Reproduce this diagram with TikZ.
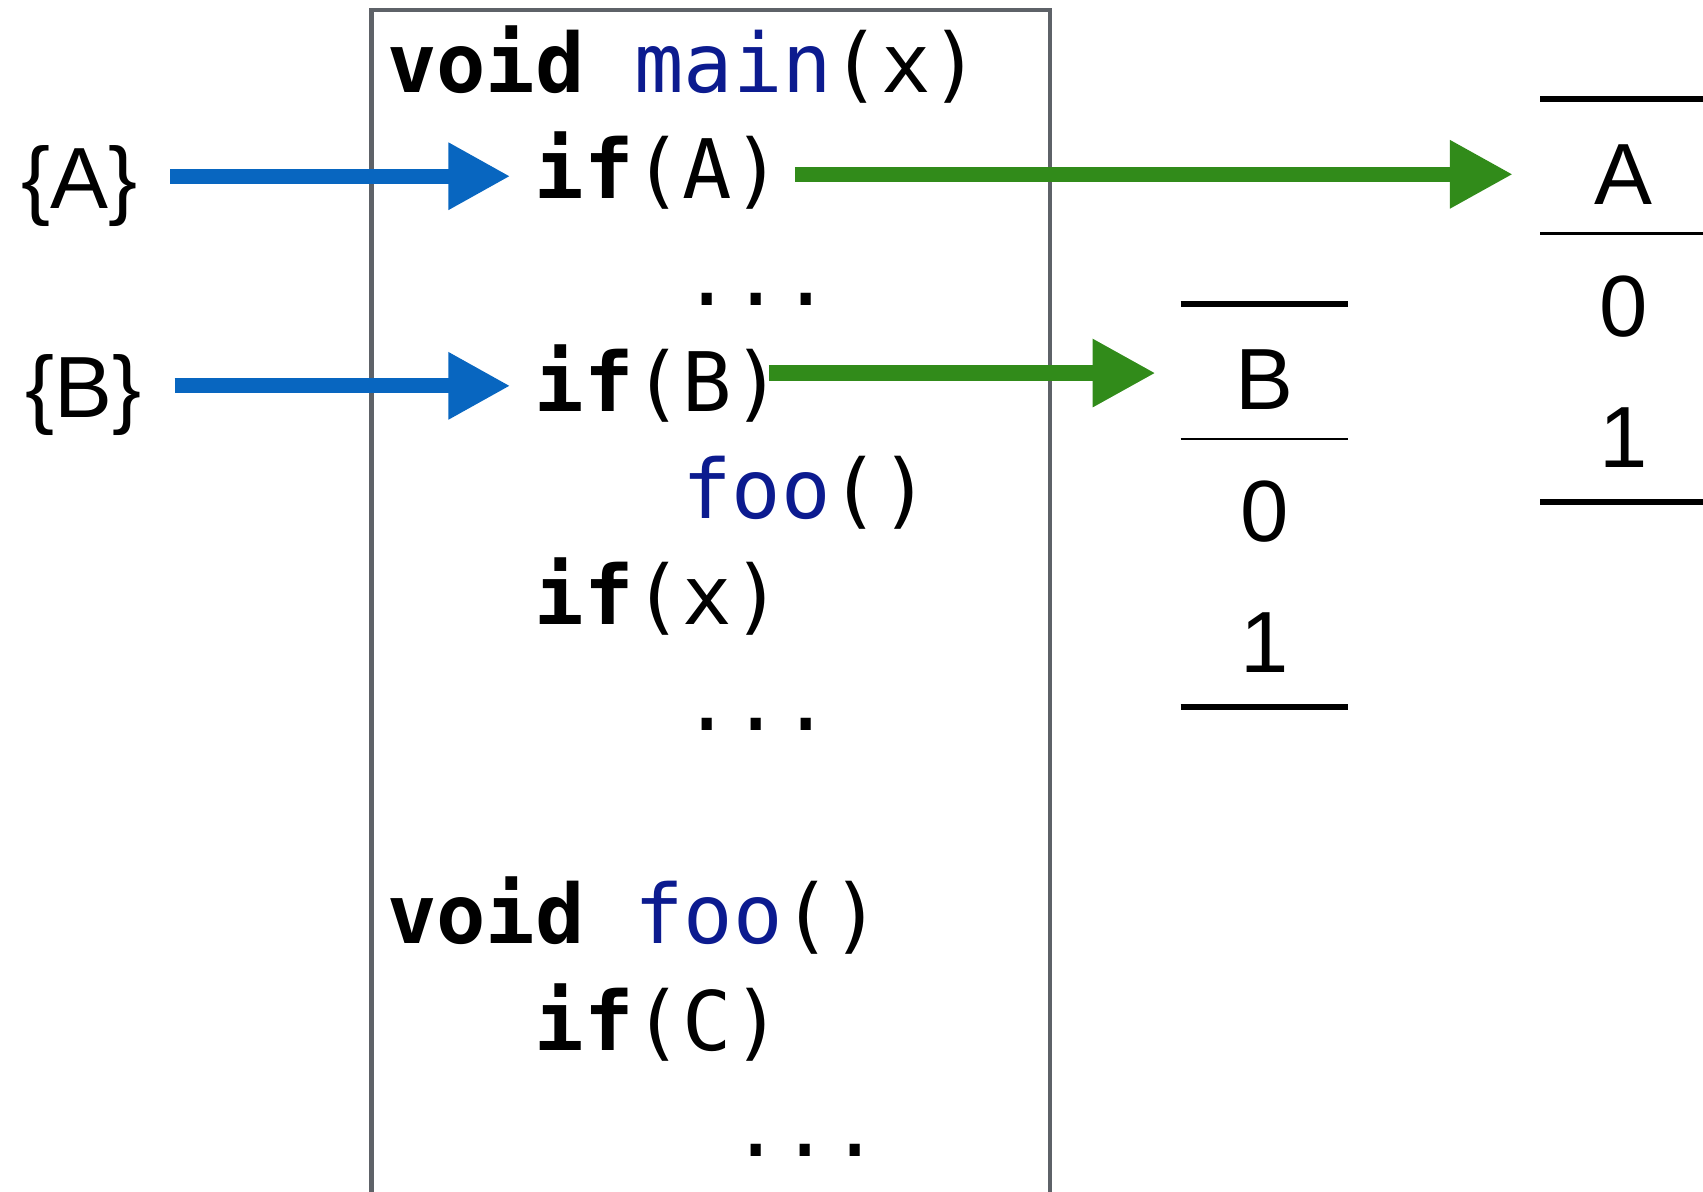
\documentclass[tikz,border=0pt]{standalone}
\usepackage{fontspec}
\setmonofont{DejaVu Sans Mono}
\newfontfamily\lblfont{Liberation Sans}
\usetikzlibrary{arrows.meta}

\definecolor{fnblue}{HTML}{0C1B8F}
\definecolor{inblue}{HTML}{0866C0}
\definecolor{outgreen}{HTML}{318B1A}
\definecolor{boxgray}{HTML}{5E6268}

\tikzset{
    codeline/.style={anchor=base west, inner sep=0pt, font=\ttfamily\fontsize{37.8pt}{45pt}\selectfont},
    lbl/.style={anchor=base, inner sep=0pt, font=\lblfont\fontsize{40pt}{48pt}\selectfont},
    inarrow/.style={draw=inblue, line width=7pt, -{Triangle[length=28.5pt, width=29pt]}},
    outarrow/.style={draw=outgreen, line width=7pt, -{Triangle[length=29pt, width=29.5pt]}},
    codebox/.style={draw=boxgray, line width=2pt},
    thickrule/.style={line width=3pt},
    thinrule/.style={line width=1pt}
}

\begin{document}
\begin{tikzpicture}[x=0.5pt, y=-0.5pt]
    \useasboundingbox (0,0) rectangle (1568,1097);

    % Code panel
    \draw[codebox] (342,1110) -- (342,9) -- (967,9) -- (967,1110);

    \node[codeline] (mainhd) at (356,85) {\textbf{void} \textcolor{fnblue}{main}(x)};
    \node[codeline] (ifA) at (491.9,183) {\textbf{if}(A)};
    \node[codeline] (dotsa) at (627.8,281) {...};
    \node[codeline] (ifB) at (491.9,379) {\textbf{if}(B)};
    \node[codeline] (callfoo) at (627.8,477) {\textcolor{fnblue}{foo}()};
    \node[codeline] (ifx) at (491.9,575) {\textbf{if}(x)};
    \node[codeline] (dotsb) at (627.8,673) {...};
    \node[codeline] (foohd) at (356,869) {\textbf{void} \textcolor{fnblue}{foo}()};
    \node[codeline] (ifC) at (491.9,967) {\textbf{if}(C)};
    \node[codeline] (dotsc) at (673.1,1065) {...};

    % Input sets
    \node[lbl] (setA) at (73,192) {\{A\}};
    \node[lbl] (setB) at (77,384) {\{B\}};
    \draw[inarrow, shorten <=15pt, shorten >=11pt] ([yshift=-2.5pt]setA.east |- ifA.west) -- ([yshift=-2.5pt]ifA.west);
    \draw[inarrow, shorten <=15pt, shorten >=11pt] ([yshift=-1pt]setB.east |- ifB.west) -- ([yshift=-1pt]ifB.west);

    % Tables
    \foreach \nm/\cx/\cy in {A/1495/0, B/1164/189} {
        \coordinate (tab\nm) at ({\cx-77},{91+\cy});
        \draw[thickrule] ({\cx-77},{91+\cy}) -- ({\cx+77},{91+\cy});
        \node[lbl] (hdr\nm) at (\cx,{188+\cy}) {\nm};
        \draw[thinrule] ({\cx-77},{215+\cy}) -- ({\cx+77},{215+\cy});
        \node[lbl] (zero\nm) at (\cx,{310+\cy}) {0};
        \node[lbl] (one\nm) at (\cx,{430+\cy}) {1};
        \draw[thickrule] ({\cx-77},{462+\cy}) -- ({\cx+77},{462+\cy});
    }

    \draw[outarrow, shorten <=5.8pt, shorten >=12.5pt] (ifA.east |- hdrA) -- (tabA |- hdrA);
    \draw[outarrow, shorten <=-6.2pt, shorten >=11.5pt] ([yshift=3pt]ifB.east |- hdrB) -- ([yshift=3pt]tabB |- hdrB);
\end{tikzpicture}
\end{document}
